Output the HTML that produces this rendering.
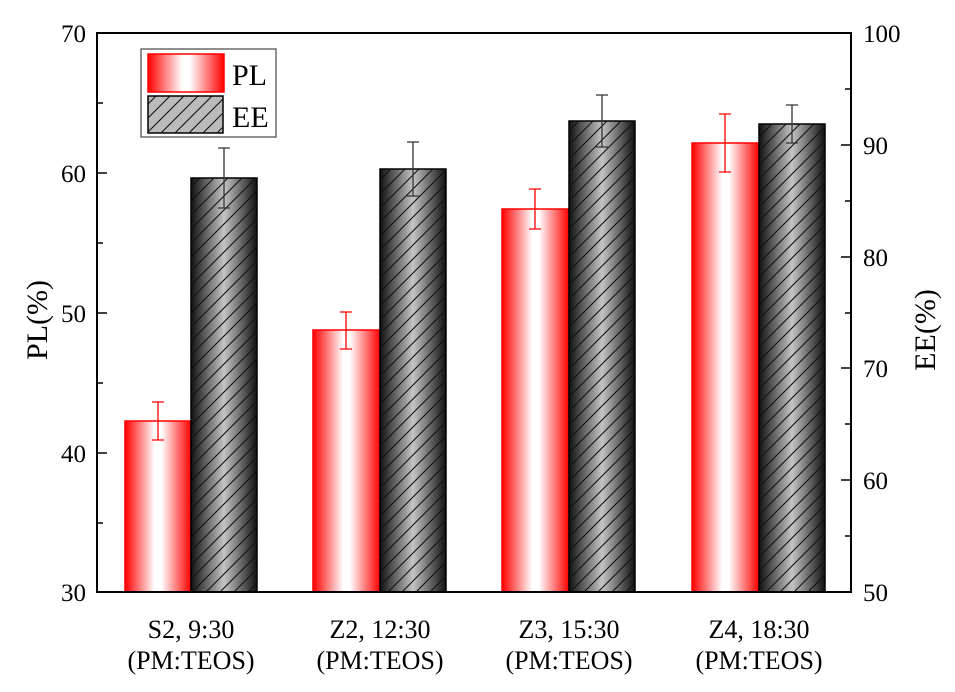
<!DOCTYPE html>
<html><head><meta charset="utf-8"><style>
html,body{margin:0;padding:0;background:#fff;}
svg{display:block;font-family:"Liberation Serif",serif;}
</style></head><body>
<svg width="955" height="692" viewBox="0 0 955 692" xmlns="http://www.w3.org/2000/svg">
<defs>
<linearGradient id="pl" x1="0" x2="1" y1="0" y2="0">
<stop offset="0" stop-color="#ff0000"/><stop offset="0.45" stop-color="#ffffff"/><stop offset="0.55" stop-color="#ffffff"/><stop offset="1" stop-color="#ff0000"/>
</linearGradient>
<linearGradient id="ee" x1="0" x2="1" y1="0" y2="0">
<stop offset="0" stop-color="#111"/><stop offset="0.5" stop-color="#c4c4c4"/><stop offset="1" stop-color="#111"/>
</linearGradient>
<pattern id="hatch" patternUnits="userSpaceOnUse" width="14" height="14">
<path d="M-2,16 L16,-2 M-2,2 L2,-2 M12,16 L16,12" stroke="#111" stroke-width="1.1"/>
</pattern>
</defs>
<g stroke-width="1.5">
<rect x="125" y="421" width="66" height="171" fill="url(#pl)" stroke="#f00"/>
<rect x="191" y="178" width="66" height="414" fill="url(#ee)" stroke="#000"/>
<rect x="191" y="178" width="66" height="414" fill="url(#hatch)"/>
<rect x="313" y="330" width="67" height="262" fill="url(#pl)" stroke="#f00"/>
<rect x="380" y="169" width="66" height="423" fill="url(#ee)" stroke="#000"/>
<rect x="380" y="169" width="66" height="423" fill="url(#hatch)"/>
<rect x="502" y="209" width="67" height="383" fill="url(#pl)" stroke="#f00"/>
<rect x="569" y="121" width="66" height="471" fill="url(#ee)" stroke="#000"/>
<rect x="569" y="121" width="66" height="471" fill="url(#hatch)"/>
<rect x="692" y="143" width="67" height="449" fill="url(#pl)" stroke="#f00"/>
<rect x="759" y="124" width="66" height="468" fill="url(#ee)" stroke="#000"/>
<rect x="759" y="124" width="66" height="468" fill="url(#hatch)"/>
</g>
<g stroke-width="1.3" fill="none">
<path d="M158,402V440M152,402H164M152,440H164" stroke="#f00"/>
<path d="M346,312V349M340,312H352M340,349H352" stroke="#f00"/>
<path d="M535,189V229M529,189H541M529,229H541" stroke="#f00"/>
<path d="M725,114V172M719,114H731M719,172H731" stroke="#f00"/>
<path d="M224,148V208M218,148H230M218,208H230" stroke="#333"/>
<path d="M413,142V196M407,142H419M407,196H419" stroke="#333"/>
<path d="M602,95V147M596,95H608M596,147H608" stroke="#333"/>
<path d="M792,105V143M786,105H798M786,143H798" stroke="#333"/>
</g>
<rect x="97" y="33" width="754" height="559" fill="none" stroke="#000" stroke-width="2"/>
<g stroke="#000" stroke-width="1.5">
<path d="M97,33h10M97,173h10M97,313h10M97,453h10M97,592h10M97,103h6M97,243h6M97,383h6M97,523h6"/>
<path d="M851,33h-10M851,145h-10M851,257h-10M851,368h-10M851,480h-10M851,592h-10M851,89h-6M851,201h-6M851,313h-6M851,424h-6M851,536h-6"/>
</g>
<g font-size="25" fill="#000">
<g text-anchor="end">
<text x="86" y="42">70</text><text x="86" y="182">60</text><text x="86" y="322">50</text><text x="86" y="462">40</text><text x="86" y="601">30</text>
</g>
<g text-anchor="start">
<text x="863" y="42">100</text><text x="863" y="154">90</text><text x="863" y="266">80</text><text x="863" y="377">70</text><text x="863" y="489">60</text><text x="863" y="601">50</text>
</g>
</g>
<g font-size="26" text-anchor="middle" fill="#000">
<text x="191" y="638">S2, 9:30</text><text x="191" y="669">(PM:TEOS)</text>
<text x="380" y="638">Z2, 12:30</text><text x="380" y="669">(PM:TEOS)</text>
<text x="569" y="638">Z3, 15:30</text><text x="569" y="669">(PM:TEOS)</text>
<text x="759" y="638">Z4, 18:30</text><text x="759" y="669">(PM:TEOS)</text>
</g>
<g font-size="30" text-anchor="middle" fill="#000">
<text transform="translate(47,320) rotate(-90)">PL(%)</text>
<text transform="translate(935,330) rotate(-90)">EE(%)</text>
</g>
<rect x="141" y="49" width="135" height="88" fill="#fff" stroke="#555" stroke-width="1.3"/>
<rect x="148" y="54" width="76" height="38" fill="url(#pl)" stroke="#f00" stroke-width="1.5"/>
<rect x="148" y="96" width="75" height="37" fill="#bbb" stroke="#000" stroke-width="1.5"/>
<rect x="148" y="96" width="75" height="37" fill="url(#hatch)"/>
<g font-size="30" fill="#000"><text x="232" y="85">PL</text><text x="232" y="127">EE</text></g>
</svg>
</body></html>
